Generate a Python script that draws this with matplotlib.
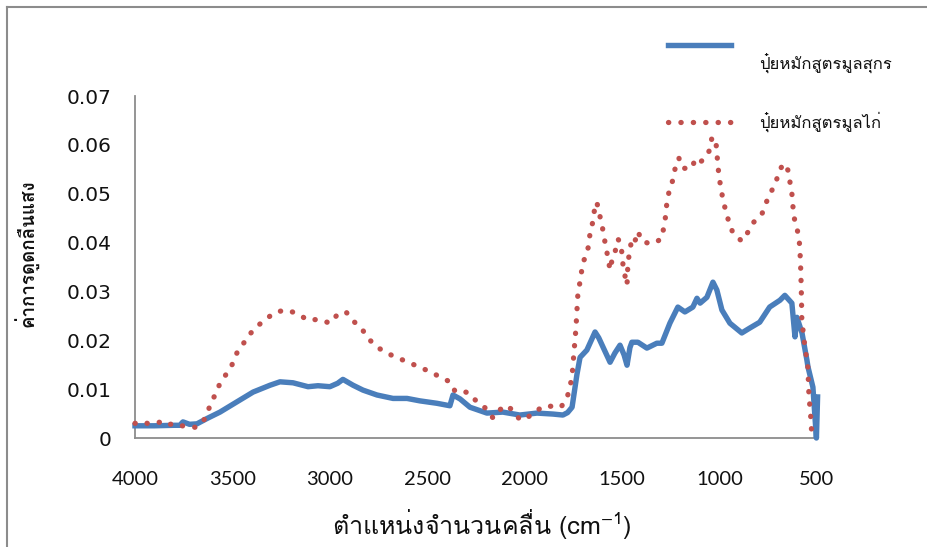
import matplotlib
matplotlib.use('Agg')
import matplotlib.pyplot as plt
from matplotlib.lines import Line2D

# ---- data ----
pig_x = [4000, 3900, 3800, 3770, 3754, 3720, 3682, 3630, 3564, 3477, 3394, 3307, 3256,
         3189, 3112, 3061, 3000, 2960, 2933, 2881, 2830, 2758, 2676, 2604, 2538, 2450,
         2384, 2368, 2332, 2281, 2194, 2112, 2025, 1937, 1855, 1804, 1780, 1757, 1732,
         1716, 1681, 1639, 1620, 1598, 1562, 1537, 1511, 1490, 1475, 1460, 1450, 1419,
         1373, 1322, 1296, 1255, 1214, 1178, 1137, 1116, 1100, 1065, 1034, 1014, 988,
         947, 886, 845, 794, 743, 690, 665, 629, 613, 603, 577, 552, 546, 521, 503, 497]
pig_y = [0.0025, 0.0025, 0.0026, 0.0026, 0.0033, 0.0028, 0.0029, 0.0040, 0.0053, 0.0074,
         0.0094, 0.0108, 0.0115, 0.0113, 0.0105, 0.0107, 0.0105, 0.0112, 0.0120, 0.0108,
         0.0098, 0.0088, 0.0081, 0.0081, 0.0076, 0.0071, 0.0066, 0.0088, 0.0080, 0.0063,
         0.0051, 0.0053, 0.0047, 0.0051, 0.0049, 0.0047, 0.0052, 0.0063, 0.0130, 0.0165,
         0.0180, 0.0217, 0.0205, 0.0186, 0.0155, 0.0174, 0.0190, 0.0170, 0.0149, 0.0185,
         0.0196, 0.0196, 0.0184, 0.0194, 0.0194, 0.0235, 0.0268, 0.0258, 0.0268, 0.0286,
         0.0276, 0.0288, 0.0319, 0.0303, 0.0262, 0.0235, 0.0215, 0.0225, 0.0237, 0.0268,
         0.0282, 0.0292, 0.0276, 0.0207, 0.0247, 0.0215, 0.0160, 0.0145, 0.0104, 0.0000,
         0.0084]

chick_x = [4000, 3959, 3930, 3890, 3856, 3820, 3790, 3760, 3692, 3651, 3630, 3610, 3584,
           3564, 3533, 3502, 3477, 3446, 3410, 3369, 3323, 3277, 3220, 3164, 3112, 3056,
           3000, 2958, 2917, 2881, 2835, 2804, 2758, 2707, 2655, 2594, 2543, 2491, 2435,
           2384, 2358, 2337, 2286, 2245, 2194, 2163, 2137, 2096, 2055, 2025, 1983, 1947,
           1906, 1860, 1814, 1783, 1768, 1757, 1747, 1737, 1727, 1716, 1701, 1686, 1671,
           1665, 1655, 1640, 1630, 1619, 1604, 1594, 1583, 1573, 1562, 1552, 1537, 1521,
           1506, 1496, 1486, 1475, 1470, 1460, 1450, 1434, 1419, 1399, 1368, 1332, 1296,
           1286, 1276, 1271, 1260, 1240, 1229, 1209, 1188, 1142, 1127, 1106, 1070, 1049,
           1039, 1019, 1014, 1009, 1003, 993, 983, 968, 952, 931, 886, 855, 824, 783,
           763, 737, 712, 696, 670, 649, 639, 629, 624, 618, 603, 593, 588, 583, 580,
           578, 572, 565, 557, 547, 544, 541, 536, 531, 526]
chick_y = [0.0030, 0.0033, 0.0029, 0.0030, 0.0035, 0.0028, 0.0030, 0.0025, 0.0022, 0.0033,
           0.0050, 0.0072, 0.0092, 0.0112, 0.0130, 0.0150, 0.0174, 0.0192, 0.0213, 0.0230,
           0.0245, 0.0258, 0.0262, 0.0254, 0.0241, 0.0243, 0.0235, 0.0254, 0.0258, 0.0240,
           0.0223, 0.0204, 0.0186, 0.0174, 0.0164, 0.0155, 0.0145, 0.0137, 0.0125, 0.0115,
           0.0096, 0.0098, 0.0092, 0.0074, 0.0059, 0.0041, 0.0055, 0.0067, 0.0055, 0.0037,
           0.0043, 0.0053, 0.0065, 0.0065, 0.0063, 0.0082, 0.0104, 0.0127, 0.0176, 0.0225,
           0.0296, 0.0320, 0.0360, 0.0372, 0.0395, 0.0419, 0.0433, 0.0472, 0.0483, 0.0462,
           0.0438, 0.0413, 0.0391, 0.0368, 0.0344, 0.0364, 0.0380, 0.0407, 0.0397, 0.0356,
           0.0333, 0.0313, 0.0360, 0.0384, 0.0409, 0.0403, 0.0423, 0.0403, 0.0399, 0.0399,
           0.0409, 0.0432, 0.0456, 0.0480, 0.0503, 0.0528, 0.0550, 0.0573, 0.0552, 0.0552,
           0.0569, 0.0562, 0.0575, 0.0591, 0.0616, 0.0607, 0.0585, 0.0560, 0.0536, 0.0511,
           0.0489, 0.0464, 0.0442, 0.0419, 0.0403, 0.0421, 0.0442, 0.0458, 0.0480, 0.0503,
           0.0521, 0.0546, 0.0562, 0.0548, 0.0524, 0.0501, 0.0476, 0.0452, 0.0429, 0.0411,
           0.0389, 0.0340, 0.0292, 0.0245, 0.0221, 0.0196, 0.0174, 0.0145, 0.0112, 0.0084,
           0.0063, 0.0037, 0.0000]

series_names = ['ปุ๋ยหมักสูตรมูลสุกร', 'ปุ๋ยหมักสูตรมูลไก่']
x_ticks = [4000, 3500, 3000, 2500, 2000, 1500, 1000, 500]
y_ticks = [0, 0.01, 0.02, 0.03, 0.04, 0.05, 0.06, 0.07]
y_tick_labels = ['0', '0.01', '0.02', '0.03', '0.04', '0.05', '0.06', '0.07']
x_label = 'ตำแหน่งจำนวนคลื่น (cm$^{\\mathregular{-1}}$)'
y_label = 'ค่าการดูดกลืนแสง'

BLUE = '#4A7EBB'
RED = '#C0504D'
THAI = ['Loma', 'DejaVu Sans']
DOTS = (0, (0.05, 2.3))
W, H = 928, 547

plt.rcParams['mathtext.default'] = 'regular'
plt.rcParams['mathtext.fontset'] = 'custom'
plt.rcParams['mathtext.rm'] = 'Loma'

fig = plt.figure(figsize=(W/100, H/100), dpi=100)
ax = fig.add_axes([135/W, 1-438/H, (817-135)/W, (438-96)/H])

ax.plot(pig_x, pig_y, color=BLUE, lw=3.9, solid_joinstyle='round', clip_on=False, zorder=3)
ax.plot(chick_x, chick_y, color=RED, lw=3.8, linestyle=DOTS,
        dash_capstyle='round', clip_on=False, zorder=4)

ax.set_xlim(4000, 500)
ax.set_ylim(0, 0.07)
ax.set_xticks(x_ticks)
ax.set_xticklabels([str(t) for t in x_ticks], family='Lato', fontsize=14.5)
ax.set_yticks(y_ticks)
ax.set_yticklabels(y_tick_labels, family='DejaVu Sans', fontsize=14.5)
ax.tick_params(axis='both', length=0, colors='#111111')
ax.tick_params(axis='y', pad=17)
ax.tick_params(axis='x', pad=24)
for s in ['top', 'right']:
    ax.spines[s].set_visible(False)
for s in ['left', 'bottom']:
    ax.spines[s].set_color('#8C8C8C')
    ax.spines[s].set_linewidth(1.3)

# axis titles
fig.text(482/W, 1-524/H, x_label, family=THAI, fontsize=18, ha='center', va='center',
         color='#111111')
fig.text(27/W, 1-253/H, y_label, family=THAI, fontsize=13.5, fontweight='bold',
         rotation=90, ha='center', va='center', color='#111111')

# legend (drawn in figure coordinates, outside the plot)
fig.add_artist(Line2D([668/W, 731/W], [1-45/H, 1-45/H], color=BLUE, lw=3.9,
                      transform=fig.transFigure))
fig.add_artist(Line2D([668/W, 731/W], [1-122/H, 1-122/H], color=RED, lw=3.8,
                      linestyle=DOTS, dash_capstyle='round',
                      transform=fig.transFigure))
fig.text(759/W, 1-63/H, series_names[0], family=THAI, fontsize=12, va='center', ha='left',
         color='#111111')
fig.text(759/W, 1-122/H, series_names[1], family=THAI, fontsize=12, va='center', ha='left',
         color='#111111')

# outer chart frame
fig.add_artist(Line2D([7/W, 7/W], [0, 1-7/H], color='#8C8C8C', lw=1.5, transform=fig.transFigure))
fig.add_artist(Line2D([7/W, 1], [1-7/H, 1-7/H], color='#8C8C8C', lw=1.5, transform=fig.transFigure))

fig.savefig('out.png', dpi=100)
